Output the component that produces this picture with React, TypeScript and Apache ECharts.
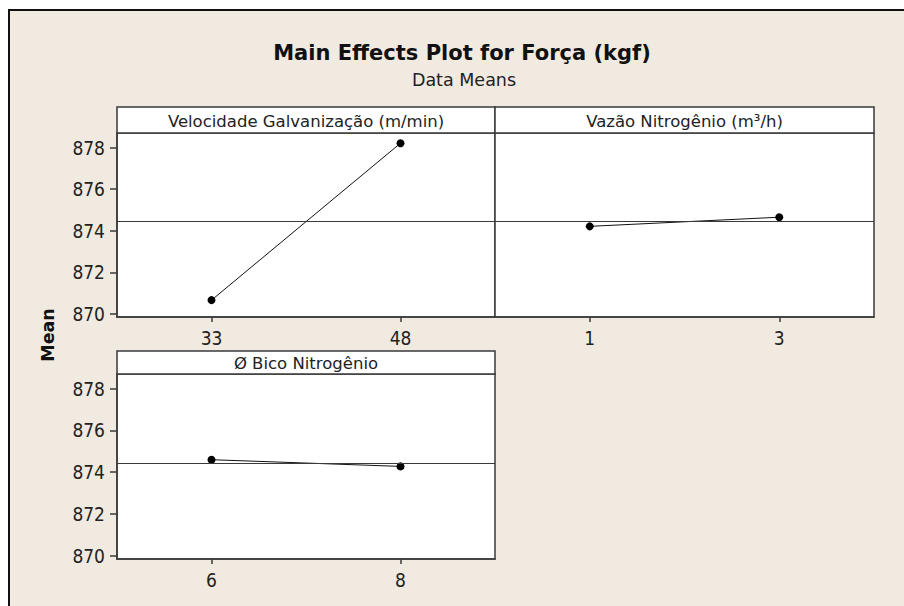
import React, { useEffect, useRef } from "react";
import * as echarts from "echarts";

// Factor levels and the mean response at each level
const velocidadeLevels = [33, 48];
const velocidadeMeans = [870.66, 878.21];
const vazaoLevels = [1, 3];
const vazaoMeans = [874.21, 874.65];
const bicoLevels = [6, 8];
const bicoMeans = [874.6, 874.28];

const grandMean = 874.44;
const yTicks = [870, 872, 874, 876, 878];

const panelTitles = [
  "Velocidade Galvanização (m/min)",
  "Vazão Nitrogênio (m³/h)",
  "Ø Bico Nitrogênio",
];

const titleText = "Main Effects Plot for Força (kgf)";
const subtitleText = "Data Means";
const yAxisName = "Mean";

const FONT = "'DejaVu Sans', sans-serif";
const NUM_FONT = "'DejaVu Sans Condensed', 'DejaVu Sans', sans-serif";
const INK = "#222";
const FRAME = "#3a3a3a";
const BEIGE = "#F1EAE0";

export default function App() {
  const ref = useRef<HTMLDivElement>(null);

  useEffect(() => {
    if (!ref.current) return;
    const chart = echarts.init(ref.current, undefined, { renderer: "svg" });

    const panels = [
      { levels: velocidadeLevels, means: velocidadeMeans, xMin: 25.5, xMax: 55.5, grid: { left: 117, top: 133, width: 378, height: 184 }, yLabels: true },
      { levels: vazaoLevels, means: vazaoMeans, xMin: 0, xMax: 4, grid: { left: 495, top: 133, width: 379, height: 184 }, yLabels: false },
      { levels: bicoLevels, means: bicoMeans, xMin: 5, xMax: 9, grid: { left: 117, top: 374, width: 378, height: 185 }, yLabels: true },
    ];

    const headers = [
      { x: 117, y: 107, w: 378, h: 26 },
      { x: 495, y: 107, w: 379, h: 26 },
      { x: 117, y: 351, w: 378, h: 23 },
    ];

    const option: echarts.EChartsOption = {
      animation: false,
      backgroundColor: "#ffffff",
      graphic: [
        {
          type: "rect",
          z: -10,
          shape: { x: 9, y: 10, width: 920, height: 620 },
          style: { fill: BEIGE, stroke: "#111", lineWidth: 2 },
        },
        {
          type: "text",
          x: 462,
          y: 53,
          style: {
            text: titleText,
            font: `bold 21px ${FONT}`,
            fill: "#111",
            textAlign: "center",
            textVerticalAlign: "middle",
          },
        },
        {
          type: "text",
          x: 464,
          y: 80,
          style: {
            text: subtitleText,
            font: `17.5px ${FONT}`,
            fill: INK,
            textAlign: "center",
            textVerticalAlign: "middle",
          },
        },
        {
          type: "text",
          x: 48,
          y: 335,
          rotation: Math.PI / 2,
          style: {
            text: yAxisName,
            font: `bold 17.5px ${FONT}`,
            fill: "#111",
            textAlign: "center",
            textVerticalAlign: "middle",
          },
        },
        ...headers.flatMap((h, i) => [
          {
            type: "rect" as const,
            shape: { x: h.x, y: h.y, width: h.w, height: h.h },
            style: { fill: "#ffffff", stroke: FRAME, lineWidth: 1.5 },
          },
          {
            type: "text" as const,
            x: h.x + h.w / 2,
            y: h.y + h.h / 2 + 1,
            style: {
              text: panelTitles[i],
              font: `16.5px ${FONT}`,
              fill: INK,
              textAlign: "center",
              textVerticalAlign: "middle",
            },
          },
        ]),
      ],
      grid: panels.map((p) => ({
        ...p.grid,
        show: true,
        backgroundColor: "#ffffff",
        borderColor: FRAME,
        borderWidth: 1.5,
        containLabel: false,
      })),
      xAxis: panels.map((p, i) => ({
        type: "value",
        gridIndex: i,
        min: p.xMin,
        max: p.xMax,
        splitLine: { show: false },
        axisLine: { show: true, lineStyle: { color: FRAME, width: 1.5 } },
        axisTick: {
          show: true,
          length: 5,
          customValues: p.levels,
          lineStyle: { color: FRAME, width: 1.5 },
        },
        axisLabel: {
          show: true,
          customValues: p.levels,
          margin: 11,
          fontSize: 19,
          fontFamily: NUM_FONT,
          color: INK,
        },
      })),
      yAxis: panels.map((p, i) => ({
        type: "value",
        gridIndex: i,
        min: 869.85,
        max: 878.7,
        splitLine: { show: false },
        axisLine: { show: p.yLabels, lineStyle: { color: FRAME, width: 1.5 } },
        axisTick: {
          show: p.yLabels,
          length: 7,
          customValues: yTicks,
          lineStyle: { color: FRAME, width: 1.5 },
        },
        axisLabel: {
          show: p.yLabels,
          customValues: yTicks,
          margin: 12,
          fontSize: 19,
          fontFamily: NUM_FONT,
          color: INK,
        },
      })),
      series: panels.map((p, i) => ({
        type: "line",
        xAxisIndex: i,
        yAxisIndex: i,
        data: p.levels.map((lv, k) => [lv, p.means[k]]),
        symbol: "circle",
        symbolSize: 8,
        lineStyle: { color: "#111", width: 1 },
        itemStyle: { color: "#000" },
        markLine: {
          silent: true,
          symbol: "none",
          label: { show: false },
          lineStyle: { color: FRAME, width: 1.2, type: "solid" },
          data: [{ yAxis: grandMean }],
        },
      })),
    };

    chart.setOption(option);
    return () => chart.dispose();
  }, []);

  return (
    <div
      ref={ref}
      style={{ position: "fixed", left: 0, top: 0, width: 904, height: 606 }}
    />
  );
}
